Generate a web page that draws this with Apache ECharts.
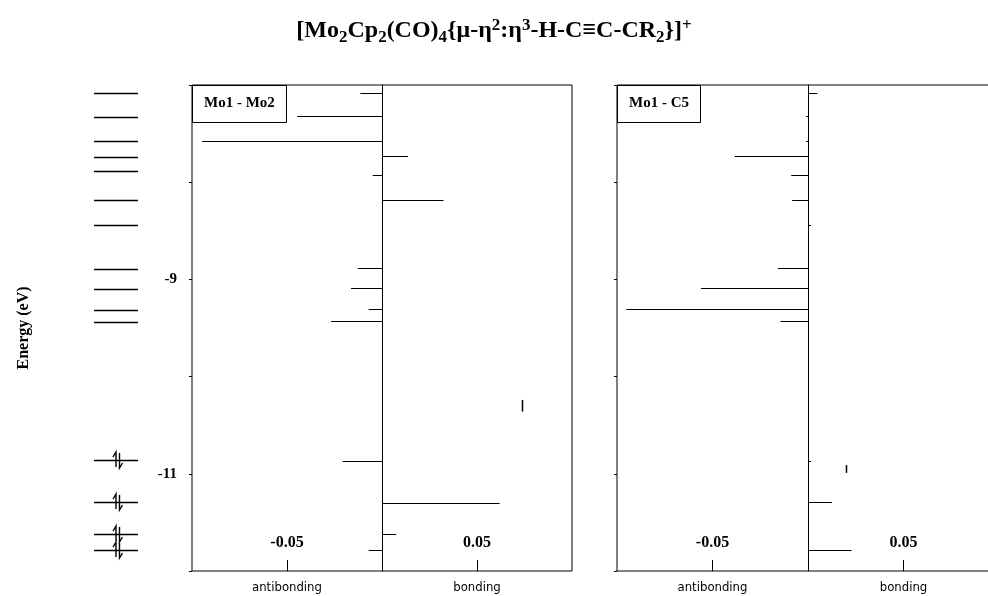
<!DOCTYPE html>
<html><head><meta charset="utf-8">
<script src="https://cdn.jsdelivr.net/npm/echarts@6/dist/echarts.min.js"></script>
<style>html,body{margin:0;padding:0;background:#fff}#c{width:988px;height:596px}</style>
</head><body><div id="c"></div>
<script>
// ---- data (energies in eV, COOP values) ----
const energyLevels = [-7.08, -7.33, -7.58, -7.74, -7.88, -8.18, -8.44, -8.89, -9.10, -9.31, -9.44, -10.86, -11.29, -11.62, -11.78];
const occupiedLevels = [-10.86, -11.29, -11.62, -11.78];

const moMoEnergy = [-7.08, -7.32, -7.58, -7.73, -7.93, -8.18, -8.88, -9.09, -9.30, -9.43, -10.87, -11.30, -11.62, -11.78];
const moMoCoop   = [-0.0114, -0.0447, -0.0947, 0.0137, -0.0049, 0.0324, -0.0128, -0.0163, -0.0070, -0.0268, -0.0207, 0.0619, 0.0075, -0.0070];

const moCEnergy = [-7.08, -7.32, -7.58, -7.73, -7.93, -8.18, -8.44, -8.88, -9.09, -9.30, -9.43, -10.87, -11.29, -11.78];
const moCCoop   = [0.0049, -0.0010, -0.0010, -0.0384, -0.0088, -0.0083, 0.0015, -0.0158, -0.0560, -0.0951, -0.0144, 0.0015, 0.0125, 0.0228];

const moMoMarks = [[0.0737, -10.24, -10.36]];
const moCMarks  = [[0.0198, -10.91, -10.99]];

const energyTickLabels = [-9, -11];
const coopTickLabels = [-0.05, 0.05];
const sideNames = ['antibonding', 'bonding'];
const panelNames = ['Mo1 - Mo2', 'Mo1 - C5'];
const titleText = '[Mo{s|2}Cp{s|2}(CO){s|4}{μ-η{p|2}:η{p|3}-H-C≡C-CR{s|2}}]{p|+}';
const yAxisName = 'Energy (eV)';

// ---- styling ----
const SERIF = "'Liberation Serif', 'Times New Roman', serif";
const NARROW = "'Liberation Sans Narrow', 'DejaVu Sans Condensed', 'DejaVu Sans Mono', monospace";
const E_MIN = -12, E_MAX = -7;

const chart = echarts.init(document.getElementById('c'));

function snap(v) { return Math.round(v) + 0.5; }

function hLineItem(x0, x1, y, w) {
  return { type: 'line', shape: { x1: x0, y1: snap(y), x2: x1, y2: snap(y) }, style: { stroke: '#000', lineWidth: w } };
}

const barRender = function (params, api) {
  const v = api.value(0), e = api.value(1);
  const p0 = api.coord([0, e]), p1 = api.coord([v, e]);
  return hLineItem(p0[0], p1[0], p0[1], 1);
};
const markRender = function (params, api) {
  const x = api.value(0);
  const a = api.coord([x, api.value(1)]), b = api.coord([x, api.value(2)]);
  return { type: 'line', shape: { x1: snap(a[0]), y1: a[1], x2: snap(a[0]), y2: b[1] }, style: { stroke: '#000', lineWidth: 1.5 } };
};

function coopXAxes(grid) {
  return [
    { gridIndex: grid, type: 'value', min: -0.1, max: 0.1, interval: 0.05, position: 'bottom',
      axisLine: { show: false, onZero: false }, splitLine: { show: false },
      axisTick: { show: true, inside: true, length: 11, customValues: coopTickLabels, lineStyle: { color: '#000', width: 1 } },
      axisLabel: { show: true, inside: true, margin: 20, customValues: coopTickLabels, formatter: v => String(v),
        color: '#000', fontFamily: SERIF, fontWeight: 'bold', fontSize: 16 } },
    { gridIndex: grid, type: 'value', min: -0.1, max: 0.1, interval: 0.05, position: 'bottom',
      axisLine: { show: false, onZero: false }, splitLine: { show: false }, axisTick: { show: false },
      axisLabel: { show: true, margin: 10, customValues: coopTickLabels, formatter: v => (v < 0 ? sideNames[0] : sideNames[1]),
        color: '#000', fontFamily: NARROW, fontSize: 13 } }
  ];
}
function coopYAxes(grid, labels) {
  return [
    { gridIndex: grid, type: 'value', min: E_MIN, max: E_MAX, interval: 1, position: 'left',
      axisLine: { show: false, onZero: false }, splitLine: { show: false },
      axisTick: { show: true, length: 3, lineStyle: { color: '#000' } },
      axisLabel: { show: labels, margin: 15, customValues: energyTickLabels, formatter: v => String(v),
        color: '#000', fontFamily: SERIF, fontWeight: 'bold', fontSize: 15 } },
    { gridIndex: grid, type: 'value', min: E_MIN, max: E_MAX, position: 'left',
      axisLine: { show: true, onZero: true, lineStyle: { color: '#000', width: 1 } },
      axisTick: { show: false }, axisLabel: { show: false }, splitLine: { show: false } }
  ];
}

const option = {
  backgroundColor: '#fff',
  animation: false,
  title: [
    { text: titleText, left: 'center', top: 10,
      textStyle: { fontFamily: SERIF, fontWeight: 'bold', fontSize: 24, color: '#000', lineHeight: 32,
        rich: {
          s: { fontFamily: SERIF, fontWeight: 'bold', fontSize: 17, color: '#000', padding: [13, 0, 0, 0] },
          p: { fontFamily: SERIF, fontWeight: 'bold', fontSize: 17, color: '#000', padding: [0, 0, 11, 0] }
        } } },
    { text: panelNames[0], left: 192, top: 85, borderColor: '#000', borderWidth: 1, padding: [11, 12, 12, 12],
      textStyle: { fontFamily: SERIF, fontWeight: 'bold', fontSize: 15, color: '#000' } },
    { text: panelNames[1], left: 617, top: 85, borderColor: '#000', borderWidth: 1, padding: [11, 12, 12, 12],
      textStyle: { fontFamily: SERIF, fontWeight: 'bold', fontSize: 15, color: '#000' } }
  ],
  grid: [
    { left: 94, top: 85, width: 44, height: 486, outerBoundsMode: 'none' },
    { left: 192, top: 85, width: 380, height: 486, show: true, borderColor: '#000', borderWidth: 1, outerBoundsMode: 'none' },
    { left: 617, top: 85, width: 382, height: 486, show: true, borderColor: '#000', borderWidth: 1, outerBoundsMode: 'none' }
  ],
  xAxis: [
    { gridIndex: 0, type: 'value', min: 0, max: 1, show: false }
  ].concat(coopXAxes(1), coopXAxes(2)),
  yAxis: [
    { gridIndex: 0, type: 'value', min: E_MIN, max: E_MAX, name: yAxisName, nameLocation: 'middle', nameGap: 62,
      nameTextStyle: { fontFamily: SERIF, fontWeight: 'bold', fontSize: 16, color: '#000' },
      axisLine: { show: false, onZero: false }, axisTick: { show: false }, axisLabel: { show: false }, splitLine: { show: false } }
  ].concat(coopYAxes(1, true), coopYAxes(2, false)),
  series: [
    { type: 'custom', xAxisIndex: 0, yAxisIndex: 0, clip: false,
      data: energyLevels.map(e => [0, e]),
      renderItem: function (params, api) {
        const e = api.value(1);
        const a = api.coord([0, e]), b = api.coord([1, e]);
        return hLineItem(a[0], b[0], a[1], 1.5);
      } },
    { type: 'custom', xAxisIndex: 0, yAxisIndex: 0, clip: false,
      data: occupiedLevels.map(e => [0.545, e]),
      renderItem: function (params, api) {
        const c = api.coord([api.value(0), api.value(1)]);
        const cx = Math.round(c[0]), cy = Math.round(c[1]);
        const st = { stroke: '#000', lineWidth: 1.4, fill: null };
        return { type: 'group', children: [
          { type: 'polyline', shape: { points: [[cx - 5, cy - 3], [cx - 2, cy - 8], [cx - 2, cy + 7]] }, style: st },
          { type: 'polyline', shape: { points: [[cx + 1.5, cy - 7], [cx + 1.5, cy + 8], [cx + 4.5, cy + 3]] }, style: st }
        ] };
      } },
    { type: 'custom', xAxisIndex: 1, yAxisIndex: 1, clip: false,
      data: moMoCoop.map((v, i) => [v, moMoEnergy[i]]), renderItem: barRender },
    { type: 'custom', xAxisIndex: 1, yAxisIndex: 1, clip: false, data: moMoMarks, renderItem: markRender },
    { type: 'custom', xAxisIndex: 3, yAxisIndex: 3, clip: false,
      data: moCCoop.map((v, i) => [v, moCEnergy[i]]), renderItem: barRender },
    { type: 'custom', xAxisIndex: 3, yAxisIndex: 3, clip: false, data: moCMarks, renderItem: markRender }
  ]
};
chart.setOption(option);
</script></body></html>
